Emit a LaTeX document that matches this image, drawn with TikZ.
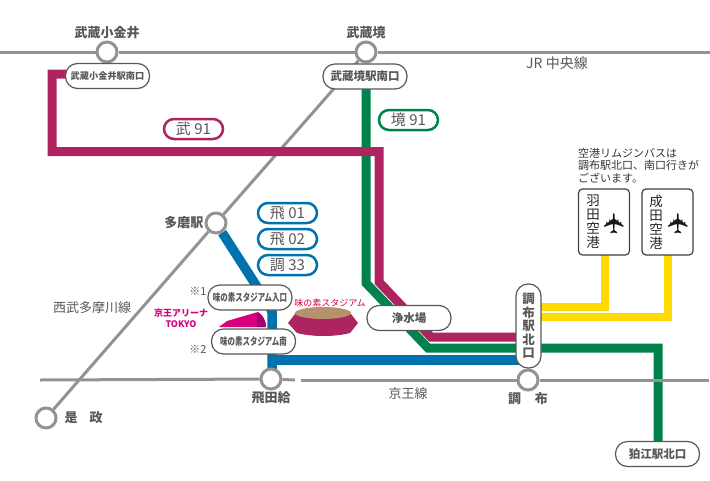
\documentclass[tikz,border=0pt]{standalone}
\usepackage{fontspec}
\setmainfont{Noto Sans CJK JP}
\newfontfamily\planefont{DejaVu Sans}
\usetikzlibrary{backgrounds}
\definecolor{railgray}{HTML}{939393}
\definecolor{inkgray}{HTML}{595757}
\definecolor{busmagenta}{HTML}{AD2460}
\definecolor{busgreen}{HTML}{00824A}
\definecolor{busblue}{HTML}{0073AE}
\definecolor{busyellow}{HTML}{FFD900}
\definecolor{arenapink}{HTML}{D6007F}
\definecolor{arenadark}{HTML}{A0006E}
\definecolor{stadiumtan}{HTML}{B5916E}
\definecolor{stadiumred}{HTML}{D7003A}
\newcommand{\slim}[1]{\scalebox{.72}[1]{#1}}
\tikzstyle{station}=[circle,line width=3pt,draw=railgray,fill=white,inner sep=0pt,minimum size=20pt,label distance=2pt]
\tikzstyle{stop}=[rectangle,rounded corners=12pt,line width=1.2pt,draw=inkgray,fill=white,text=inkgray,
inner sep=0pt,minimum width=84pt,minimum height=25pt,font=\fontsize{11.5}{12}\selectfont\bfseries]
\tikzstyle{vstop}=[stop,minimum width=25pt,minimum height=84pt,align=center,font=\fontsize{12.5}{13.5}\selectfont\bfseries]
\tikzstyle{badge}=[rectangle,rounded corners=10pt,line width=2.5pt,fill=white,text=inkgray,inner sep=0pt,
minimum width=59pt,minimum height=20pt,font=\fontsize{15}{15}\selectfont]
\tikzstyle{airport}=[rectangle,rounded corners=4pt,line width=1.2pt,draw=black!75,fill=white,
minimum width=51pt,minimum height=66pt]
\tikzstyle{airname}=[inner sep=0pt,align=center,text=black!85,font=\fontsize{13.5}{14}\selectfont]
\tikzstyle{plane}=[inner sep=0pt,rotate=90,text=black!90,font=\planefont\fontsize{28}{28}\selectfont]
\tikzstyle{linename}=[inner sep=0pt,text=inkgray,font=\fontsize{13}{13}\selectfont]
\tikzstyle{refmark}=[inner sep=0pt,text=inkgray,font=\fontsize{11}{11}\selectfont]

\begin{document}
\begin{tikzpicture}[x=1pt,y=-1pt,every label/.style={inner sep=1pt,text=inkgray,font=\fontsize{13}{13}\selectfont\bfseries}]
            \useasboundingbox (0,0) rectangle (710,480);

            % RAIL STATIONS

            \node[station,label=above:武蔵小金井] (koganei) at (107,52) {};
            \node[station,label=above:武蔵境] (sakai) at (366,52) {};
            \node[station,label=left:多磨駅] (tama) at (216,223) {};
            \node[station,label={[xshift=6pt]right:是\hspace{12pt}政}] (koremasa) at (46,418) {};
            \node[station,label=below:飛田給] (tobitakyu) at (271,379) {};
            \node[station,label=below:調\hspace{14pt}布] (chofu) at (528,380) {};

            \coordinate (jrwest) at (0,52);
            \coordinate (jreast) at (710,52);
            \coordinate (keiowest) at (40,380);
            \coordinate (keiogapa) at (295,380);
            \coordinate (keiogapb) at (301,380);
            \coordinate (keioeast) at (709,380);

            % BUS STOPS

            \node[stop] (koganeiS) at (107.5,76) {\fontsize{9.2}{10}\selectfont 武蔵小金井駅南口};
            \node[stop] (sakaiS) at (365,76.5) {武蔵境駅南口};
            \node[stop,font=\fontsize{10.4}{11}\selectfont\bfseries] (ajiN) at (250,297.5) {\slim{味の素スタジアム入口}};
            \node[stop,font=\fontsize{10.4}{11}\selectfont\bfseries] (ajiS) at (253.5,341.5) {\slim{味の素スタジアム南}};
            \node[stop] (josui) at (409,318) {浄水場};
            \node[vstop] (chofuS) at (528.5,326) {調\\布\\駅\\北\\口};
            \node[stop] (komae) at (657.5,454) {狛江駅北口};

            % ROUTE BADGES

            \node[badge,draw=busmagenta] (b1) at (193.5,129) {武 91};
            \node[badge,draw=busgreen] (b2) at (408.5,120) {境 91};
            \node[badge,draw=busblue] (b3) at (287.5,213) {飛 01};
            \node[badge,draw=busblue] (b4) at (287.5,239) {飛 02};
            \node[badge,draw=busblue] (b5) at (287.5,265) {調 33};

            % AIRPORT PART

            \node[airport] (haneda) at (604,222) {};
            \node[airname] (hanedaT) at (593,222) {羽\\田\\空\\港};
            \node[plane] (hanedaP) at (615,224) {✈};
            \node[airport] (narita) at (667.5,222) {};
            \node[airname] (naritaT) at (656,222) {成\\田\\空\\港};
            \node[plane] (naritaP) at (678.5,224) {✈};
            \node[inner sep=0pt,anchor=west,align=left,text=black!80,font=\fontsize{11}{12.5}\selectfont] (note) at (578,165.5)
            {空港リムジンバスは\\調布駅北口、南口行きが\\ございます。};

            % TEXT LABELS

            \node[linename,font=\fontsize{14}{14}\selectfont] (jrname) at (557,63) {JR 中央線};
            \node[linename] (keioname) at (408,394) {京王線};
            \node[linename] (seibuname) at (92,308) {西武多摩川線};
            \node[refmark] (m1) at (198,291) {※1};
            \node[refmark] (m2) at (198,349) {※2};
            \node[inner sep=0pt,align=center,text=arenapink,font=\fontsize{9}{11}\selectfont\bfseries] (arenaT) at (181,318.5) {京王アリーナ\\TOKYO};
            \node[inner sep=0pt,text=stadiumred,font=\fontsize{9}{9}\selectfont] (stadiumT) at (330,303) {味の素スタジアム};

            % BUS LINES

            \coordinate (g1) at (366,283);
            \coordinate (g2) at (428,348);
            \coordinate (g3) at (658,348);
            \coordinate (m1a) at (52,74);
            \coordinate (m1b) at (52,151.5);
            \coordinate (m1c) at (379,151.5);
            \coordinate (m1d) at (379,282);
            \coordinate (m1e) at (431,337);
            \coordinate (blA) at (270,307);
            \coordinate (blB) at (272,312);
            \coordinate (blC) at (272,360);
            \coordinate (yA) at (605,307);
            \coordinate (yB) at (668,317);

            \begin{pgfonlayer}{background}
            \path[line width=3pt,draw=railgray] (jrwest) edge (koganei) (koganei) edge (sakai) (sakai) edge (jreast);
            \path[line width=3pt,draw=railgray] (sakai) edge (tama) (tama) edge (koremasa);

            \draw[line width=9pt,draw=busgreen,line join=miter] (g1 |- sakaiS) -- (g1) -- (g2) -- (g3) -- (g3 |- komae);
            \draw[line width=9pt,draw=busmagenta,line join=miter] (m1a -| koganeiS) -- (m1a) -- (m1b) -- (m1c) -- (m1d) -- (m1e) -- (m1e -| chofuS);
            \draw[line width=9.5pt,draw=busblue,line join=miter] (tama) -- (blA) -- (blB) -- (blC |- tobitakyu);
            \draw[line width=9.5pt,draw=busblue,line join=miter] (blC) -- (blC -| chofuS);
            \draw[line width=8pt,draw=busyellow,line join=miter] (yA -| chofuS) -- (yA) -- (yA |- haneda);
            \draw[line width=8pt,draw=busyellow,line join=miter] (yB -| chofuS) -- (yB) -- (yB |- narita);

            \path[line width=3pt,draw=railgray] (keiowest) edge (tobitakyu) (tobitakyu) edge (keiogapa) (keiogapb) edge (chofu) (chofu) edge (keioeast);
            \end{pgfonlayer}

            % STADIUM PART

            \fill[arenapink] (219,327) -- (227,321) -- (258,312) .. controls (263,315) and (266,321) .. (266,327) -- cycle;
            \fill[arenadark] (257,312) .. controls (263,315) and (266,321) .. (266,327) -- (257,327) -- cycle;
            \fill[busmagenta] (288,323) -- (295,314) -- (351,314) -- (358,323) -- (350,333) .. controls (335,337) and (312,337) .. (297,333) -- cycle;
            \fill[stadiumtan] (323,313) ellipse (28pt and 6pt);
\end{tikzpicture}
\end{document}
